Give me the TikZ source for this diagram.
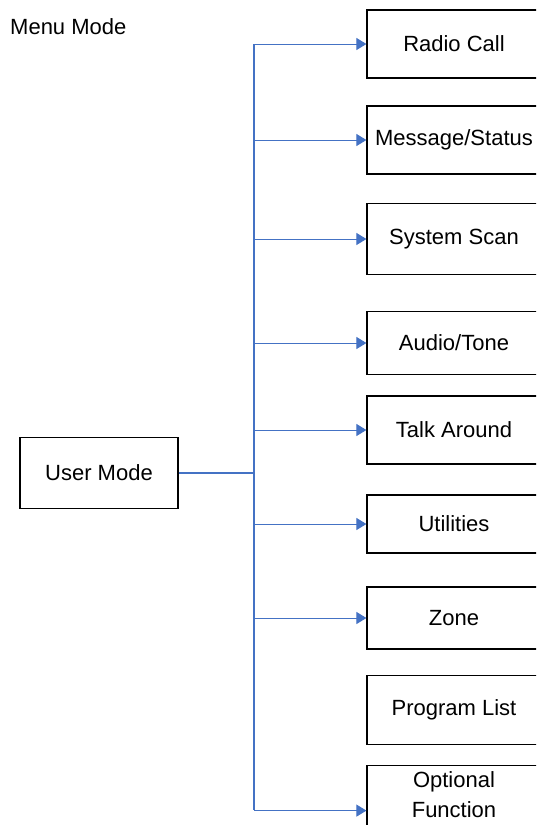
\documentclass[tikz,border=0pt]{standalone}
\usepackage{fontspec}
\setmainfont{Liberation Sans}
\usetikzlibrary{arrows.meta,positioning}
\definecolor{linkBlue}{HTML}{4472C4}

\begin{document}
\begin{tikzpicture}[x=1pt,y=-1pt,
    font=\fontsize{22}{29.5}\selectfont,
    menubox/.style={draw=black,line width=1.2pt,minimum width=174pt,
                    align=center,inner sep=0pt},
    trunk/.style={draw=linkBlue,line width=1.4pt},
    link/.style={draw=linkBlue,line width=1pt,
                 -{Triangle[length=10pt,width=12pt]}}]
  \useasboundingbox (0,0) rectangle (536,825);
  \clip (0,0) rectangle (536,825);

  % title
  \node[anchor=west,inner sep=0pt] (title) at (10,27) {Menu Mode};

  % root
  \node[draw=black,line width=1.2pt,minimum width=158pt,minimum height=71pt]
        (user) at (99,473) {User Mode};

  % menu entries
  \node[menubox,minimum height=68pt] (radio) at (454,44)  {Radio Call};
  \node[menubox,minimum height=68pt] (msg)   at (454,140) {Message/Status};
  \node[menubox,minimum height=71pt] (scan)  at (454,239) {System Scan};
  \node[menubox,minimum height=63pt] (audio) at (454,343) {Audio/Tone};
  \node[menubox,minimum height=68pt] (talk)  at (454,430) {Talk Around};
  \node[menubox,minimum height=58pt] (util)  at (454,524) {Utilities};
  \node[menubox,minimum height=62pt] (zone)  at (454,618) {Zone};
  \node[menubox,minimum height=69pt] (prog)  at (454,710) {Program List};
  \node[menubox,anchor=north,minimum height=90pt,
        label={[align=center,yshift=16pt]center:Optional\\Function}]
        (opt) at (454,765) {};

  % connectors
  \coordinate (trunktop) at (254,44);
  \coordinate (trunkbot) at (254,810);
  \draw[trunk] (trunktop) -- (trunkbot);
  \draw[trunk] (user.east) -- (user.east -| trunktop);
  \foreach \n in {radio,msg,scan,audio,talk,util,zone,opt}
    \draw[link] (trunktop |- \n.west) -- (\n.west);
\end{tikzpicture}
\end{document}
